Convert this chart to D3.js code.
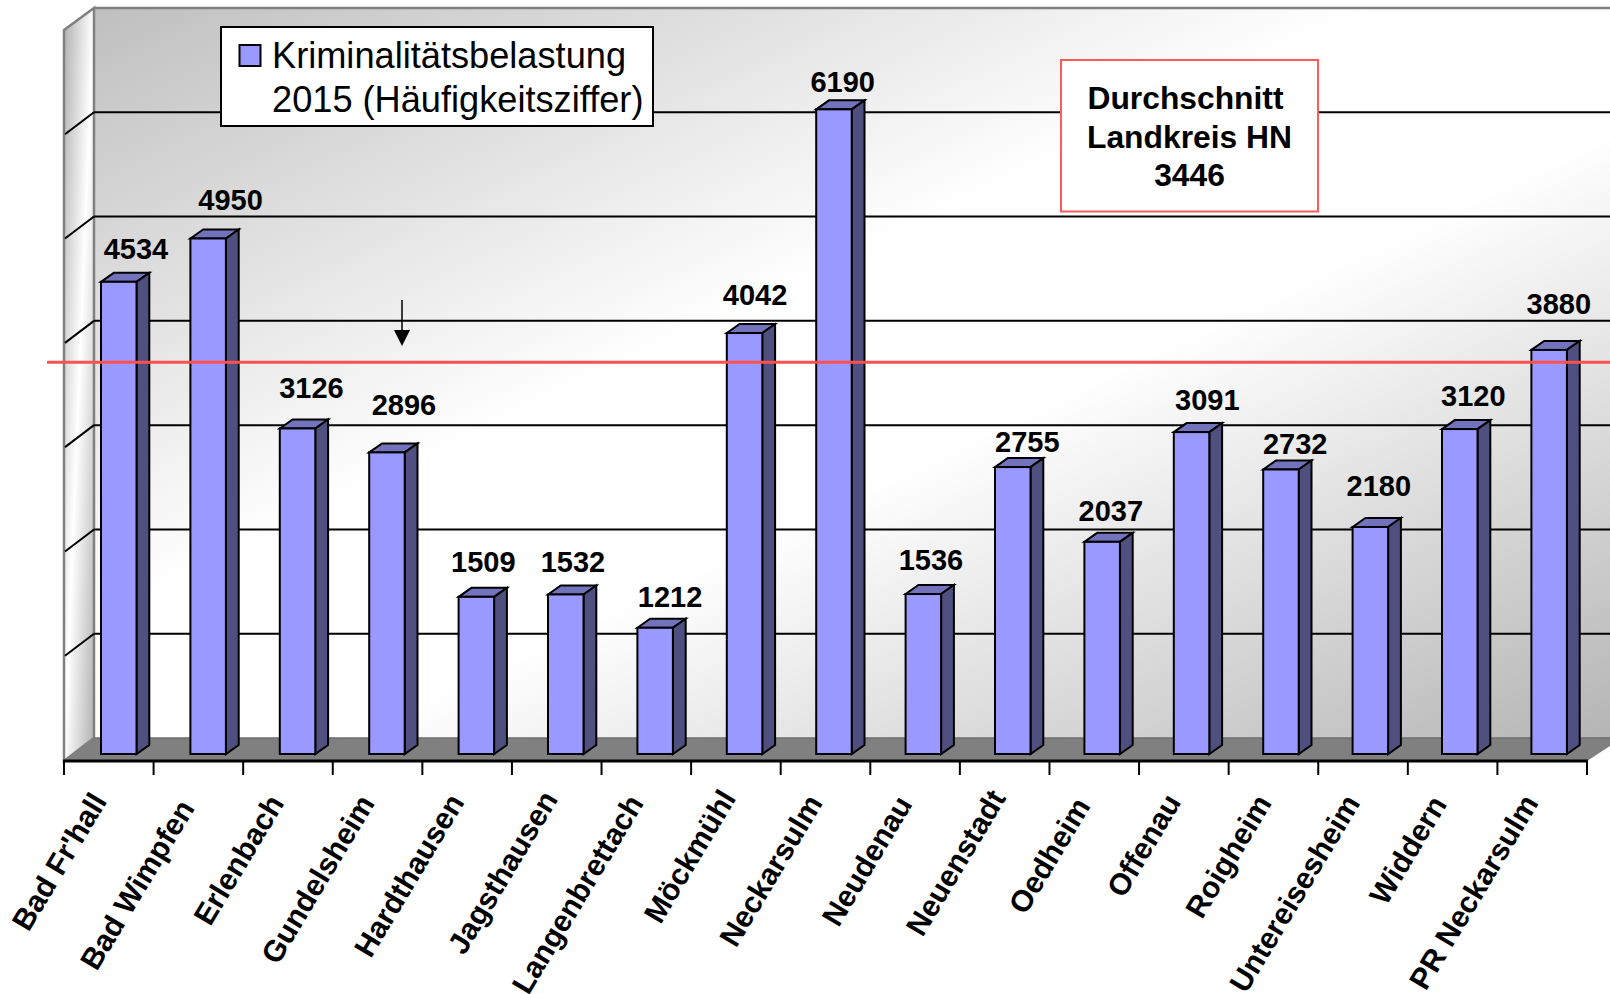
<!DOCTYPE html>
<html lang="de">
<head>
<meta charset="utf-8">
<title>Kriminalitätsbelastung 2015</title>
<script src="https://cdn.jsdelivr.net/npm/d3@7/dist/d3.min.js"></script>
<style>
html,body{margin:0;padding:0;background:#fff;overflow:hidden}
svg{display:block}
text{font-family:"Liberation Sans",Arial,sans-serif;fill:#000}
</style>
</head>
<body>
<svg id="chart" width="1610" height="994"></svg>
<script>
const categories = ["Bad Fr'hall","Bad Wimpfen","Erlenbach","Gundelsheim","Hardthausen","Jagsthausen","Langenbrettach","Möckmühl","Neckarsulm","Neudenau","Neuenstadt","Oedheim","Offenau","Roigheim","Untereisesheim","Widdern","PR Neckarsulm"];
const values = [4534,4950,3126,2896,1509,1532,1212,4042,6190,1536,2755,2037,3091,2732,2180,3120,3880];
const average = 3446;
const legendLines = ["Kriminalitätsbelastung","2015 (Häufigkeitsziffer)"];
const noteLines = ["Durchschnitt","Landkreis HN","3446"];

// hand-placed label nudges of the original slide
const labelDx = [17,22,13.3,16.2,6,6,13.5,9,7,5.6,12.5,6.4,13.3,11.5,5.6,10.5,6.4];
const labelDy = [-23,-28,-30,-37,-25,-22,-21,-28,-17,-24,-15,-21,-22,-15,-31,-23,-36];
const catEndDx = [-1,-3,-3,-2,-2,2,-2,1,-2,-2,2,-3,-2,-1,-2,-5,-3];
const catEndDy = [0,7,2,2,1,-2,2,-3,2,3,-3,5,1,2,2,3,2];
const noteDx = [-4,0,0];

const svg = d3.select("#chart");
const defs = svg.append("defs");
function diag(id, stops){
  const g = defs.append("linearGradient").attr("id",id).attr("x1",0).attr("y1",0).attr("x2",1).attr("y2",1);
  stops.forEach(([o,c])=>g.append("stop").attr("offset",o).attr("stop-color",c));
}
diag("wallGrad",[[0,"#bfbfbf"],[0.42,"#ffffff"],[0.58,"#ffffff"],[1,"#b4b4b4"]]);
diag("sideWallGrad",[[0,"#b0b0b0"],[0.5,"#ffffff"],[1,"#b0b0b0"]]);

const plotL=64, plotR=1587, backL=94, backR=1622, depthY=23;
const x = d3.scaleBand().domain(categories).range([plotL,plotR]);
const xBar = d3.scaleBand().domain(categories).range([101,101+89.4*17]);
const yBack = d3.scaleLinear().domain([0,7000]).range([738,8]);
const yFront = d3.scaleLinear().domain([0,7000]).range([754,25]);
const barW=35.5, dx3=12.8, dy3=9;
const poly = pts => pts.map(p=>p.join(",")).join(" ");

// back wall
svg.append("rect").attr("x",backL).attr("y",yBack(7000)).attr("width",backR-backL).attr("height",yBack(0)-yBack(7000)).attr("fill","url(#wallGrad)");
svg.append("line").attr("x1",backL).attr("x2",1610).attr("y1",yBack(7000)).attr("y2",yBack(7000)).attr("stroke","#808080").attr("stroke-width",2.5);
// left wall
svg.append("polygon").attr("points",poly([[plotL,yBack(7000)+depthY-1],[backL,yBack(7000)],[backL,yBack(0)],[plotL,761]])).attr("fill","url(#sideWallGrad)").attr("stroke","#808080").attr("stroke-width",2.5);
// grid
const grid = yBack.ticks(7).filter(t=>t>0&&t<7000);
svg.append("g").selectAll("line").data(grid).join("line")
  .attr("x1",backL).attr("x2",1610).attr("y1",d=>yBack(d)).attr("y2",d=>yBack(d)).attr("stroke","#000").attr("stroke-width",2);
svg.append("g").selectAll("line").data(grid).join("line")
  .attr("x1",plotL+1).attr("x2",backL).attr("y1",d=>yBack(d)+depthY-1).attr("y2",d=>yBack(d)).attr("stroke","#000").attr("stroke-width",2);
// floor
svg.append("polygon").attr("points",poly([[backL,yBack(0)],[backR,yBack(0)],[plotR,761],[plotL,761]])).attr("fill","#808080");
svg.append("line").attr("x1",backL).attr("x2",backR).attr("y1",yBack(0)).attr("y2",yBack(0)).attr("stroke","#6e6e6e").attr("stroke-width",1.5);
// axis
svg.append("line").attr("x1",plotL-1).attr("x2",plotR+1).attr("y1",761).attr("y2",761).attr("stroke","#000").attr("stroke-width",3);
const tickXs = categories.map(c=>x(c)).concat([plotR]);
svg.append("g").selectAll("line").data(tickXs).join("line")
  .attr("x1",d=>d).attr("x2",d=>d).attr("y1",761).attr("y2",775).attr("stroke","#000").attr("stroke-width",2);

// bars
const data = categories.map((c,i)=>({c,v:values[i],i}));
const bars = svg.append("g").selectAll("g").data(data).join("g").attr("stroke","#000").attr("stroke-width",2).attr("stroke-linejoin","miter");
bars.append("polygon").attr("fill","#7373bd").attr("points",d=>{const l=xBar(d.c),t=yFront(d.v);return poly([[l,t],[l+dx3,t-dy3],[l+barW+dx3,t-dy3],[l+barW,t]]);});
bars.append("polygon").attr("fill","#4f4f80").attr("points",d=>{const l=xBar(d.c)+barW,t=yFront(d.v),b=yFront(0);return poly([[l,t],[l+dx3,t-dy3],[l+dx3,b-dy3],[l,b]]);});
bars.append("rect").attr("fill","#9999ff").attr("x",d=>xBar(d.c)).attr("y",d=>yFront(d.v)).attr("width",barW).attr("height",d=>yFront(0)-yFront(d.v));

// average line and arrow
const avgY = yBack(average)-16.5;
svg.append("line").attr("x1",47).attr("x2",1610).attr("y1",avgY).attr("y2",avgY).attr("stroke","#ff5050").attr("stroke-width",3);
svg.append("line").attr("x1",402).attr("x2",402).attr("y1",300).attr("y2",332).attr("stroke","#000").attr("stroke-width",1.5);
svg.append("polygon").attr("points",poly([[394,330],[410,330],[402,346]])).attr("fill","#000");

// value labels
svg.append("g").selectAll("text").data(data).join("text")
  .attr("x",d=>x(d.c)+37+18+labelDx[d.i]).attr("y",d=>yFront(d.v)+labelDy[d.i])
  .attr("text-anchor","middle").attr("font-size",29).attr("font-weight","bold").text(d=>d.v);

// category labels
svg.append("g").selectAll("text").data(data).join("text")
  .attr("text-anchor","end").attr("font-size",30).attr("font-weight","bold")
  .attr("transform",d=>`translate(${x(d.c)+x.bandwidth()/2+catEndDx[d.i]},${801+catEndDy[d.i]}) rotate(-59)`)
  .text(d=>d.c);

// legend
const lg = svg.append("g");
lg.append("rect").attr("x",221).attr("y",27).attr("width",432).attr("height",99).attr("fill","#fff").attr("stroke","#000").attr("stroke-width",2);
lg.append("rect").attr("x",239.5).attr("y",45).attr("width",21).attr("height",21).attr("fill","#9999ff").attr("stroke","#000").attr("stroke-width",2);
lg.selectAll("text").data(legendLines).join("text").attr("x",272).attr("y",(d,i)=>67.5+i*44.5).attr("font-size",36.2).text(d=>d);

// note box
const nb = svg.append("g");
nb.append("rect").attr("x",1061).attr("y",60).attr("width",257).attr("height",151.5).attr("fill","#fff").attr("stroke","#ff5a5a").attr("stroke-width",2);
nb.selectAll("text").data(noteLines).join("text").attr("x",(d,i)=>1189.5+noteDx[i]).attr("y",(d,i)=>109+i*38.7).attr("text-anchor","middle").attr("font-size",31.8).attr("font-weight","bold").text(d=>d);
</script>
</body>
</html>
